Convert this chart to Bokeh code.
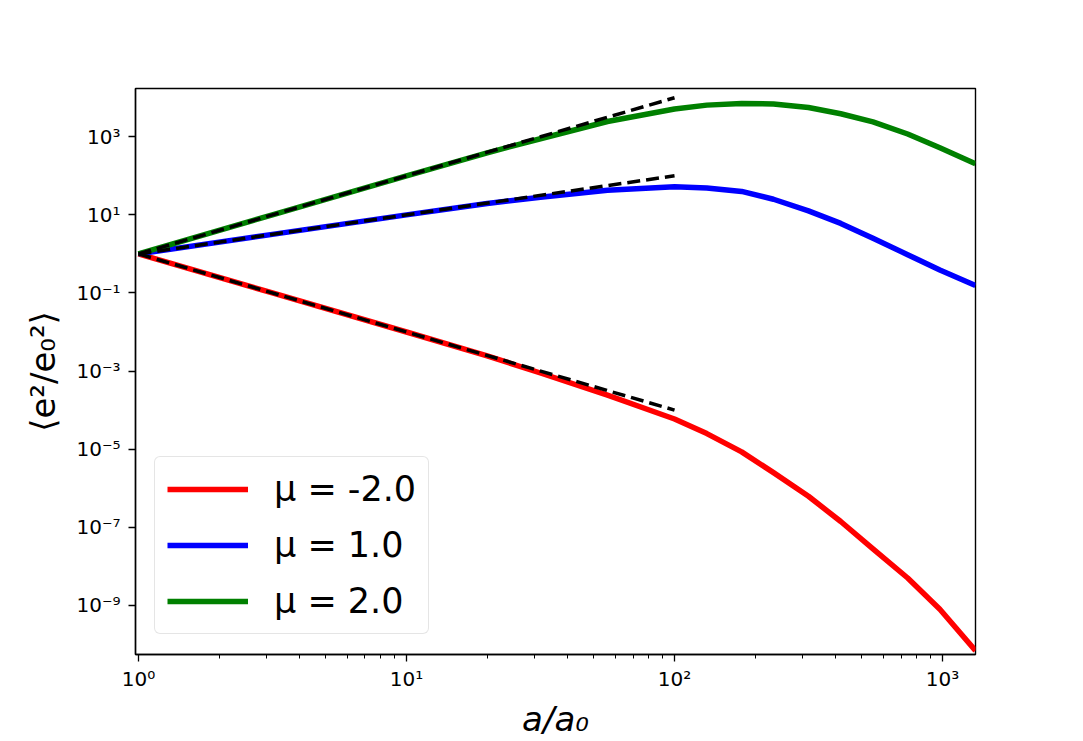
from bokeh.plotting import figure
from bokeh.models import (Range1d, FixedTicker, CustomJSTickFormatter, Legend, LegendItem)
from bokeh.embed import file_html
from bokeh.resources import INLINE

# semi-major axis ratio a/a0 at which each curve is sampled
a_grid = [1.0, 3.16, 10.0, 20.0, 31.6, 56.2, 100.0, 132.0, 178.0, 234.0,
          316.0, 417.0, 550.0, 741.0, 977.0, 1327.0]

# mean squared eccentricity ratio <e^2/e0^2> for each mu
e2_mu_m2 = [1.0, 0.1, 0.01, 2.45e-3, 8.9e-4, 2.4e-4, 5.9e-5, 2.5e-5, 8.5e-6,
            2.5e-6, 6.2e-7, 1.4e-7, 2.8e-8, 5.0e-9, 7.9e-10, 6.9e-11]
e2_mu_1 = [1.0, 3.16, 10.0, 19.5, 28.2, 42.7, 52.5, 49.0, 39.8, 25.1, 12.6,
           6.03, 2.51, 0.955, 0.389, 0.155]
e2_mu_2 = [1.0, 10.0, 100.0, 389.0, 891.0, 2455.0, 5130.0, 6460.0, 7160.0,
           6920.0, 5620.0, 3890.0, 2400.0, 1175.0, 525.0, 204.0]

# power-law asymptotes a^mu over the first two decades
a_fit = [1.0, 100.0]
fit_mu_m2 = [1.0, 1e-4]
fit_mu_1 = [1.0, 100.0]
fit_mu_2 = [1.0, 1e4]

labels = ["μ = -2.0", "μ = 1.0", "μ = 2.0"]
colors = ["#ff0000", "#0000ff", "#008000"]

x_ticks = [1, 10, 100, 1000]
x_tick_labels = ["10⁰", "10¹", "10²", "10³"]
x_minor = [m * d for d in (1, 10, 100, 1000) for m in range(2, 10)]
y_ticks = [1e-9, 1e-7, 1e-5, 1e-3, 1e-1, 1e1, 1e3]
y_tick_labels = ["10⁻⁹", "10⁻⁷", "10⁻⁵", "10⁻³", "10⁻¹", "10¹", "10³"]

FONT = "DejaVu Sans"

p = figure(width=1083, height=741, x_axis_type="log", y_axis_type="log",
           x_range=Range1d(0.975, 1327.0),
           y_range=Range1d(10 ** -10.26, 10 ** 4.236),
           output_backend="svg", toolbar_location=None,
           min_border_left=135, min_border_right=108,
           min_border_top=88, min_border_bottom=82)
p.background_fill_color = "white"
p.border_fill_color = "white"
p.xgrid.visible = False
p.ygrid.visible = False
p.outline_line_color = "black"
p.outline_line_width = 1.4

lookup_js = """
for (let i = 0; i < tick_vals.length; i++) {
    if (Math.abs(Math.log10(tick) - Math.log10(tick_vals[i])) < 1e-6) return tick_text[i];
}
return "";
"""
p.xaxis.ticker = FixedTicker(ticks=x_ticks, minor_ticks=x_minor)
p.xaxis.formatter = CustomJSTickFormatter(args=dict(tick_vals=x_ticks, tick_text=x_tick_labels), code=lookup_js)
p.yaxis.ticker = FixedTicker(ticks=y_ticks, minor_ticks=[])
p.yaxis.formatter = CustomJSTickFormatter(args=dict(tick_vals=y_ticks, tick_text=y_tick_labels), code=lookup_js)

for ax in (p.xaxis[0], p.yaxis[0]):
    ax.major_label_text_font = FONT
    ax.major_label_text_font_size = "20px"
    ax.major_label_text_color = "black"
    ax.axis_line_color = "black"
    ax.axis_line_width = 1.4
    ax.major_tick_line_color = "black"
    ax.major_tick_line_width = 1.3
    ax.minor_tick_line_color = "black"
    ax.minor_tick_line_width = 1.0
    ax.major_tick_in = 0
    ax.major_tick_out = 7
    ax.minor_tick_in = 0
    ax.minor_tick_out = 4
    ax.axis_label_text_font = FONT
    ax.axis_label_text_font_size = "34px"
    ax.axis_label_text_font_style = "normal"
    ax.axis_label_text_color = "black"

p.xaxis.axis_label = "a/a₀"
p.xaxis.axis_label_text_font_style = "italic"
p.xaxis.major_label_standoff = 5
p.xaxis.axis_label_standoff = 5
p.yaxis.axis_label = "⟨e²/e₀²⟩"
p.yaxis.major_label_standoff = 8
p.yaxis.axis_label_standoff = 10

curves = []
for ys, col in zip([e2_mu_m2, e2_mu_1, e2_mu_2], colors):
    r = p.line(a_grid, ys, line_color=col, line_width=5.5, line_join="round")
    curves.append(r)

for ys in (fit_mu_m2, fit_mu_1, fit_mu_2):
    p.line(a_fit, ys, line_color="black", line_width=3.5, line_dash="13 6")

legend = Legend(items=[LegendItem(label=lab, renderers=[r]) for lab, r in zip(labels, curves)],
                location=(19, 20), margin=0, padding=12, spacing=16,
                glyph_width=81, glyph_height=40, label_height=40, label_standoff=26,
                label_text_font=FONT, label_text_font_size="35px",
                label_text_color="black",
                border_line_color="#cccccc", border_line_width=1.5,
                background_fill_color="white", background_fill_alpha=0.8)
if "border_radius" in Legend.properties():
    legend.border_radius = 6
p.add_layout(legend)

open("out.html", "w").write(file_html(p, INLINE))
